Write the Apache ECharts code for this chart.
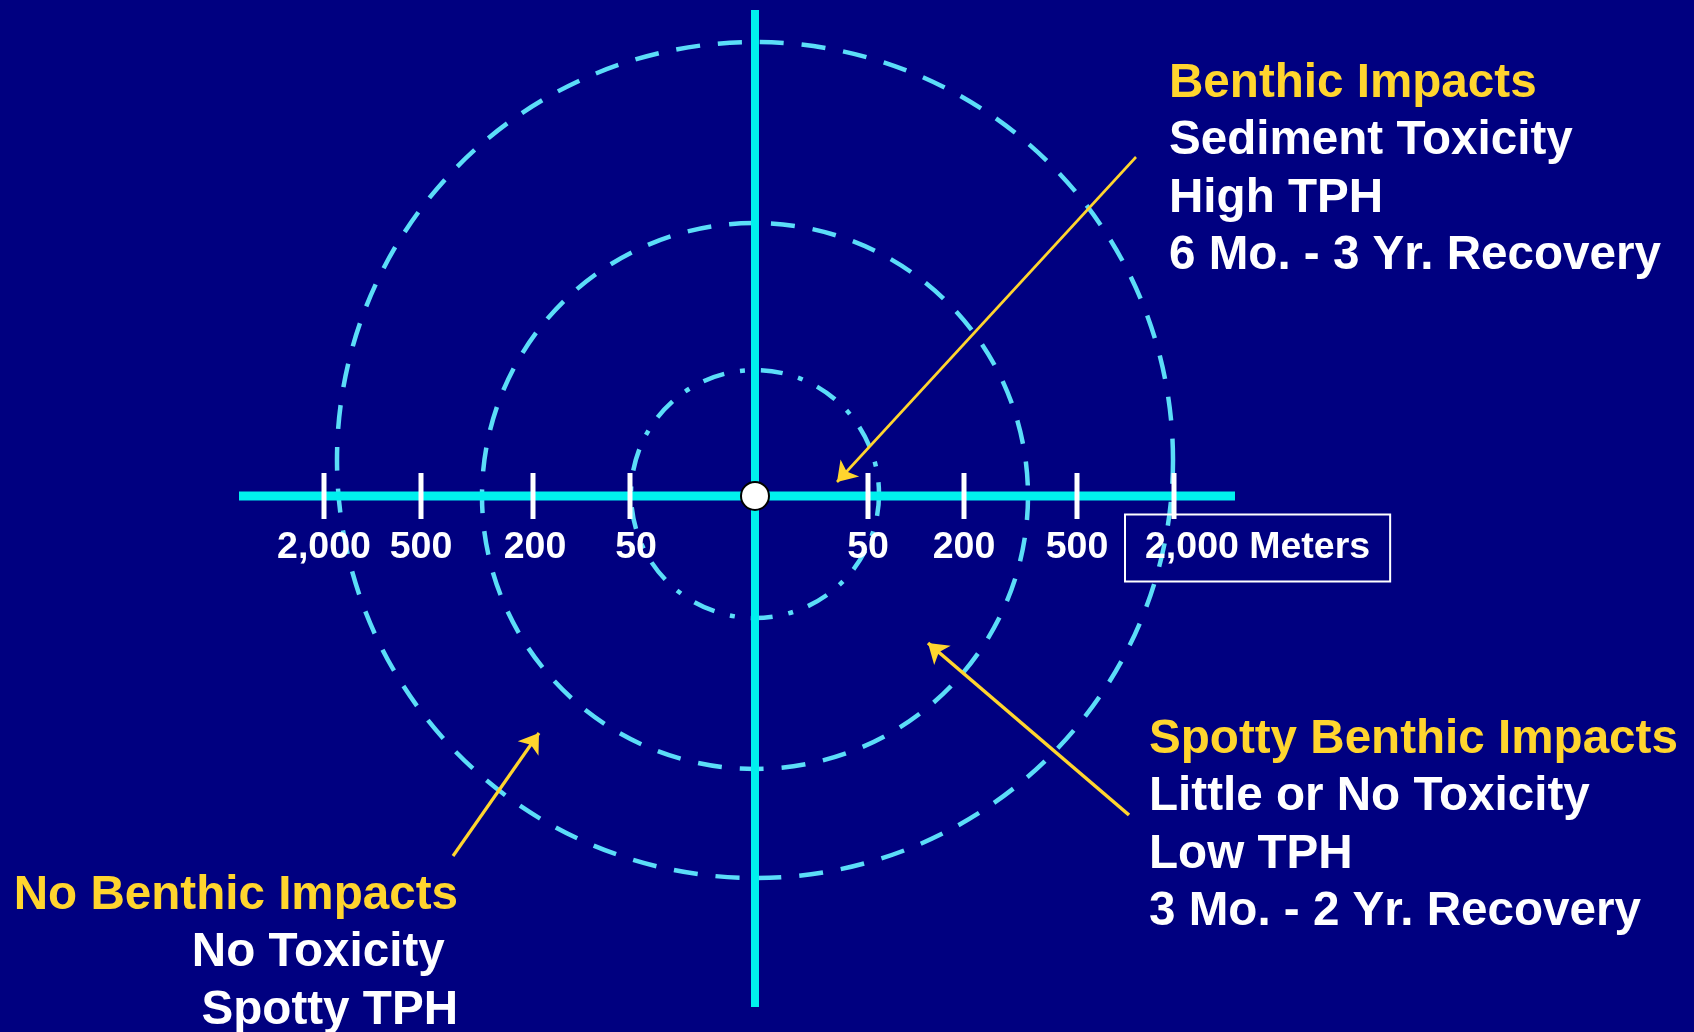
<!DOCTYPE html>
<html><head><meta charset="utf-8">
<script src="https://cdn.jsdelivr.net/npm/echarts@6/dist/echarts.min.js"></script>
<style>html,body{margin:0;padding:0;background:#000080;overflow:hidden}#c{width:1694px;height:1032px}</style>
</head><body><div id="c"></div>
<script>
// ---- data (schematic units: offset from discharge point, y up) ----
const tickLabelsLeft = ['2,000', '500', '200', '50'];
const tickLabelsRight = ['50', '200', '500', '2,000'];
const unitLabel = 'Meters';
const tickPosLeft = [-431, -334, -222, -125];
const tickPosRight = [113, 209, 322, 419];
const ringRadius = [124, 273, 418];
const ringCenterY = [2, 0, 36];
const ringKind = ['dashdot', 'dash', 'dash'];
const arrowFrom = [[381, 339], [374, -319], [-302, -360]];
const arrowTo = [[82, 14], [173, -147], [-216, -237]];
const noteTitles = ['Benthic Impacts', 'Spotty Benthic Impacts', 'No Benthic Impacts'];
const noteLines = [
  ['Sediment Toxicity', 'High TPH', '6 Mo. - 3 Yr. Recovery'],
  ['Little or No Toxicity', 'Low TPH', '3 Mo. - 2 Yr. Recovery'],
  ['No Toxicity ', 'Spotty TPH']
];
const axisH = [[-516, 0], [480, 0]];
const axisV = [[0, 486], [0, -511]];

// ---- layout / style ----
const FONT = 'Liberation Sans';
const YEL = '#FFD52E', CYAN = '#00F0EE', RING = '#5BDDF8', WHITE = '#FFFFFF';
const NOTE_SIZE = 47.6, LINE_STEP = 57.5, TICK_SIZE = 37.5;
const noteAnchor = [
  { x: 414, y: 399, align: 'left' },
  { x: 394, y: -257, align: 'left' },
  { x: -297, y: -413, align: 'right' }
];
const TICK_LABEL_Y = -52;
const TICK_LABEL_DX = [0, 0, 2, 6, 0, 0, 0, 0];

const chart = echarts.init(document.getElementById('c'), null, { renderer: 'canvas' });

const ringData = ringRadius.map((r, i) => [0, ringCenterY[i], r, i]);
const tickData = tickPosLeft.concat(tickPosRight).map(x => [x, 0]);
const tickLabelData = tickPosLeft.map((x, i) => [x, TICK_LABEL_Y, 0, i])
  .concat(tickPosRight.map((x, i) => [x, TICK_LABEL_Y, 1, i]));
const noteData = [];
noteTitles.forEach((t, b) => {
  noteData.push([noteAnchor[b].x, noteAnchor[b].y, b, 0]);
  noteLines[b].forEach((l, k) => noteData.push([noteAnchor[b].x, noteAnchor[b].y, b, k + 1]));
});
const arrowWidths = [2.6, 3.6, 3.2];

function textStyle(txt, color, size, align) {
  return { text: txt, fill: color, fontFamily: FONT, fontWeight: 'bold', fontSize: size,
    align: align, verticalAlign: 'middle', opacity: 1 };
}

chart.setOption({
  backgroundColor: '#000080',
  animation: false,
  grid: { left: 0, right: 0, top: 0, bottom: 0 },
  xAxis: { type: 'value', min: -755, max: 939, show: false },
  yAxis: { type: 'value', min: -536, max: 496, show: false },
  series: [
    {
      type: 'custom', coordinateSystem: 'cartesian2d', clip: false, silent: true, z: 1,
      data: ringData,
      renderItem: (p, api) => {
        const c = api.coord([api.value(0), api.value(1)]);
        const r = api.size([api.value(2), 0])[0];
        const kind = ringKind[api.value(3)];
        return {
          type: 'circle', shape: { cx: c[0], cy: c[1], r: r },
          style: { fill: 'none', stroke: RING, lineWidth: 4.5,
            lineDash: kind === 'dashdot' ? [22, 16, 5, 16] : [24, 18] }
        };
      }
    },
    {
      type: 'line', data: axisH, symbol: 'none', silent: true, z: 2,
      lineStyle: { color: CYAN, width: 9, cap: 'butt', opacity: 1 }
    },
    {
      type: 'line', data: axisV, symbol: 'none', silent: true, z: 2,
      lineStyle: { color: CYAN, width: 8, cap: 'butt', opacity: 1 }
    },
    {
      type: 'scatter', data: tickData, symbol: 'rect', symbolSize: [5, 46], silent: true, z: 3,
      itemStyle: { color: WHITE, opacity: 1 }
    },
    {
      type: 'scatter', data: [[0, 0]], symbol: 'circle', symbolSize: 28, silent: true, z: 4,
      itemStyle: { color: WHITE, borderColor: '#000000', borderWidth: 2, opacity: 1 }
    },
    {
      type: 'lines', coordinateSystem: 'cartesian2d', silent: true, z: 5,
      symbol: ['none', 'arrow'], symbolSize: 19,
      data: arrowFrom.map((f, i) => ({ coords: [f, arrowTo[i]], lineStyle: { width: arrowWidths[i] } })),
      lineStyle: { color: YEL, width: 3, opacity: 1, curveness: 0 }
    },
    {
      type: 'custom', coordinateSystem: 'cartesian2d', clip: false, silent: true, z: 6,
      data: tickLabelData,
      renderItem: (p, api) => {
        const c = api.coord([api.value(0), api.value(1)]);
        const side = api.value(2), i = api.value(3);
        if (side === 1 && i === tickLabelsRight.length - 1) {
          const st = textStyle(tickLabelsRight[i] + ' ' + unitLabel, WHITE, TICK_SIZE, 'left');
          Object.assign(st, { lineHeight: 37, borderColor: WHITE, borderWidth: 2, padding: [15, 20, 15, 20] });
          return { type: 'text', x: c[0] - 49, y: c[1], style: st };
        }
        const txt = side === 0 ? tickLabelsLeft[i] : tickLabelsRight[i];
        const dx = TICK_LABEL_DX[side * 4 + i];
        return { type: 'text', x: c[0] + dx, y: c[1], style: textStyle(txt, WHITE, TICK_SIZE, 'center') };
      }
    },
    {
      type: 'custom', coordinateSystem: 'cartesian2d', clip: false, silent: true, z: 6,
      data: noteData,
      renderItem: (p, api) => {
        const c = api.coord([api.value(0), api.value(1)]);
        const b = api.value(2), k = api.value(3);
        const txt = k === 0 ? noteTitles[b] : noteLines[b][k - 1];
        const baseline = c[1] + k * LINE_STEP;
        return {
          type: 'text', x: c[0], y: baseline - 0.28 * NOTE_SIZE,
          style: textStyle(txt, k === 0 ? YEL : WHITE, NOTE_SIZE, noteAnchor[b].align)
        };
      }
    }
  ]
});
</script></body></html>
